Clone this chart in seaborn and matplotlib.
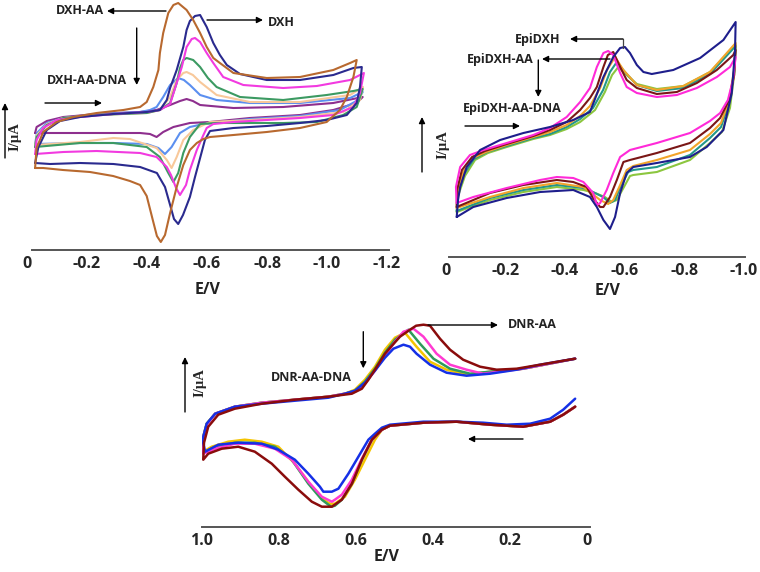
import matplotlib
matplotlib.use("Agg")
import matplotlib.pyplot as plt
import pandas as pd
import seaborn as sns

# ---------------- panel 1 : DXH (E in V, I arbitrary) ----------------
p1_dxh_E = [-0.027, -0.038, -0.066, -0.110, -0.177, -0.288, -0.399, -0.443, -0.466, -0.477, -0.499, -0.521, -0.532,
            -0.543, -0.560, -0.577, -0.599, -0.621, -0.643, -0.666, -0.710, -0.799, -0.910, -1.021, -1.088, -1.116,
            -1.110, -1.099, -1.066, -0.999, -0.910, -0.799, -0.688, -0.610, -0.593, -0.577, -0.560, -0.543, -0.520,
            -0.504, -0.490, -0.477, -0.460, -0.433, -0.377, -0.288, -0.177, -0.077, -0.027]
p1_dxh_I = [8.7, 10.3, 12.0, 12.9, 13.3, 13.6, 13.8, 14.0, 15.0, 16.2, 18.0, 20.3, 22.0,
            22.9, 23.4, 23.5, 22.3, 20.7, 19.5, 18.5, 17.6, 17.0, 17.0, 17.5, 18.2, 18.3,
            16.3, 14.7, 13.5, 13.0, 12.7, 12.4, 12.2, 11.9, 11.0, 9.2, 7.3, 5.3, 3.5,
            2.6, 3.1, 4.5, 6.3, 7.7, 8.3, 8.6, 8.7, 8.6, 8.7]

p1_dxh_aa_E = [-0.027, -0.032, -0.054, -0.099, -0.154, -0.232, -0.321, -0.377, -0.399, -0.421, -0.438, -0.443, -0.454,
               -0.471, -0.488, -0.504, -0.532, -0.554, -0.577, -0.599, -0.621, -0.643, -0.688, -0.799, -0.910, -1.021,
               -1.077, -1.099,
               -1.088, -1.066, -1.043, -0.999, -0.910, -0.799, -0.688, -0.610, -0.588, -0.566, -0.543, -0.521, -0.499,
               -0.477, -0.460, -0.446, -0.433, -0.421, -0.399, -0.377, -0.343, -0.287, -0.210, -0.120, -0.054, -0.027]
p1_dxh_aa_I = [8.2, 10.2, 11.8, 12.8, 13.3, 13.7, 14.0, 14.3, 14.8, 16.3, 18.0, 19.7, 21.7,
               23.7, 24.5, 24.7, 24.0, 23.0, 21.7, 20.3, 19.2, 18.7, 17.7, 17.2, 17.3, 18.0,
               18.7, 19.0,
               17.3, 15.3, 14.0, 12.8, 12.2, 11.8, 11.5, 11.3, 11.1, 10.7, 10.0, 8.5, 6.3,
               3.7, 1.5, 0.8, 1.4, 2.8, 5.4, 6.5, 6.9, 7.4, 7.8, 8.0, 8.2, 8.2]

p1_dna1_E = [-0.027, -0.032, -0.054, -0.099, -0.177, -0.288, -0.399, -0.443, -0.477, -0.499, -0.516, -0.532, -0.549,
             -0.560, -0.577, -0.599, -0.621, -0.654, -0.721, -0.854, -0.966, -1.077, -1.123,
             -1.110, -1.088, -1.021, -0.910, -0.799, -0.688, -0.621, -0.599, -0.588, -0.566, -0.543, -0.530, -0.510,
             -0.497, -0.480, -0.466, -0.432, -0.377, -0.232, -0.121, -0.027]
p1_dna1_I = [9.6, 11.0, 12.2, 13.0, 13.3, 13.6, 13.8, 14.0, 14.6, 16.7, 18.3, 20.3, 21.1,
             21.2, 20.8, 19.7, 18.7, 17.3, 16.5, 16.2, 16.4, 17.0, 17.7,
             15.7, 14.3, 13.5, 13.2, 13.0, 12.8, 12.6, 12.2, 11.5, 10.0, 8.0, 6.5, 5.5,
             6.2, 7.5, 8.3, 9.3, 9.7, 9.9, 9.8, 9.6]

p1_dna2_E = [-0.027, -0.032, -0.066, -0.121, -0.232, -0.399, -0.443, -0.477, -0.499, -0.510, -0.521, -0.532, -0.554,
             -0.577, -0.603, -0.632, -0.710, -0.854, -0.999, -1.088, -1.119,
             -1.099, -1.054, -0.966, -0.854, -0.743, -0.632, -0.577, -0.543, -0.521, -0.504, -0.488, -0.471, -0.443,
             -0.399, -0.288, -0.177, -0.027]
p1_dna2_I = [10.3, 11.3, 12.5, 13.2, 13.5, 13.7, 14.0, 14.7, 16.7, 18.2, 19.0, 19.2, 19.0,
             18.3, 17.2, 16.3, 15.3, 15.0, 15.5, 15.9, 16.1,
             14.3, 13.5, 12.8, 12.7, 12.7, 12.7, 12.6, 11.3, 9.7, 7.7, 6.8, 7.7, 9.3,
             10.3, 10.7, 10.7, 10.3]

p1_dna3_E = [-0.027, -0.033, -0.067, -0.120, -0.233, -0.400, -0.443, -0.477, -0.499, -0.521, -0.532, -0.553, -0.577,
             -0.632, -0.743, -0.910, -1.077, -1.120,
             -1.110, -1.054, -0.910, -0.743, -0.610, -0.588, -0.554, -0.521, -0.499, -0.482, -0.466, -0.432, -0.343,
             -0.288, -0.177, -0.027]
p1_dna3_I = [10.5, 11.5, 12.6, 13.2, 13.5, 13.7, 14.0, 15.3, 17.0, 17.7, 17.8, 17.5, 16.8,
             15.5, 14.8, 14.8, 15.5, 16.3,
             15.0, 13.8, 13.3, 13.0, 12.8, 12.5, 12.0, 11.0, 9.3, 8.2, 9.0, 10.2, 11.1,
             11.2, 10.8, 10.5]

p1_dna4_E = [-0.027, -0.033, -0.066, -0.121, -0.232, -0.377, -0.410, -0.432, -0.454, -0.477, -0.504, -0.523, -0.543,
             -0.577, -0.632, -0.743, -0.910, -1.077, -1.119,
             -1.104, -1.043, -0.910, -0.743, -0.588, -0.543, -0.510, -0.482, -0.460, -0.438, -0.399, -0.288, -0.177,
             -0.027]
p1_dna4_I = [10.6, 11.7, 12.7, 13.2, 13.6, 13.8, 14.0, 14.3, 15.3, 16.5, 17.2, 17.0, 16.5,
             15.5, 15.0, 14.7, 14.7, 15.2, 15.8,
             15.0, 14.0, 13.4, 13.1, 12.6, 12.3, 11.7, 10.3, 9.6, 10.2, 10.6, 10.7, 10.7,
             10.6]

p1_dna5_E = [-0.027, -0.032, -0.066, -0.121, -0.232, -0.377, -0.432, -0.477, -0.510, -0.532, -0.553, -0.577, -0.688,
             -0.854, -1.021, -1.119,
             -1.099, -1.021, -0.910, -0.743, -0.610, -0.543, -0.488, -0.454, -0.432, -0.410, -0.377, -0.232, -0.121,
             -0.027]
p1_dna5_I = [11.7, 12.3, 12.9, 13.3, 13.6, 13.8, 14.0, 14.5, 14.9, 15.1, 14.9, 14.5, 14.2,
             14.3, 14.7, 15.3,
             14.7, 14.0, 13.5, 13.2, 12.8, 12.7, 12.3, 11.8, 11.3, 11.6, 11.7, 11.7, 11.7,
             11.7]

p1_ticks = [0, -0.2, -0.4, -0.6, -0.8, -1.0, -1.2]
p1_tick_labels = ["0", "-0.2", "-0.4", "-0.6", "-0.8", "-1.0", "-1.2"]

# ---------------- panel 2 : EpiDXH ----------------
p2_epi_E = [-0.0375, -0.042, -0.049, -0.071, -0.116, -0.183, -0.261, -0.350, -0.428, -0.484, -0.529, -0.562, -0.585,
            -0.601, -0.618, -0.641, -0.663, -0.691, -0.763, -0.853, -0.931, -0.972,
            -0.970, -0.959, -0.931, -0.875, -0.819, -0.708, -0.629, -0.607, -0.585, -0.568, -0.551, -0.529, -0.507,
            -0.484, -0.428, -0.317, -0.205, -0.093, -0.0375]
p2_epi_I = [4.0, 5.7, 7.0, 9.0, 10.7, 11.7, 12.4, 13.0, 13.7, 14.5, 18.0, 20.0, 20.9,
            21.0, 20.4, 19.2, 18.5, 18.3, 18.7, 19.9, 21.7, 23.5,
            20.7, 16.4, 12.7, 11.0, 10.0, 9.4, 9.0, 8.4, 6.4, 4.0, 2.8, 3.7, 5.0,
            6.0, 6.7, 6.5, 5.9, 5.0, 4.0]

p2_dna1_E = [-0.0375, -0.035, -0.049, -0.082, -0.127, -0.205, -0.294, -0.350, -0.406, -0.451, -0.484, -0.507, -0.529,
             -0.545, -0.562, -0.585, -0.607, -0.641, -0.708, -0.775, -0.842, -0.909, -0.953, -0.972,
             -0.963, -0.946, -0.920, -0.886, -0.819, -0.708, -0.618, -0.585, -0.562, -0.540, -0.518, -0.507, -0.495,
             -0.462, -0.428, -0.373, -0.317, -0.205, -0.093, -0.0375]
p2_dna1_I = [5.4, 7.0, 9.0, 10.2, 10.7, 11.4, 12.2, 12.9, 14.0, 15.5, 16.9, 19.0, 20.4,
             20.6, 20.2, 18.4, 17.0, 16.4, 16.0, 16.2, 16.9, 18.0, 19.0, 20.0,
             17.7, 15.7, 14.4, 13.6, 12.4, 11.4, 10.7, 10.0, 8.4, 6.7, 5.4, 5.2, 6.4,
             7.5, 7.9, 8.0, 7.7, 6.9, 6.0, 5.4]

p2_epi_aa_E = [-0.0375, -0.0385, -0.055, -0.089, -0.132, -0.205, -0.294, -0.350, -0.406, -0.451, -0.484, -0.507,
               -0.529, -0.544, -0.562, -0.585, -0.607, -0.641, -0.708, -0.775, -0.842, -0.909, -0.964, -0.972,
               -0.967, -0.950, -0.920, -0.886, -0.819, -0.708, -0.618, -0.596, -0.574, -0.551, -0.529, -0.518,
               -0.494, -0.473, -0.428, -0.373, -0.261, -0.149, -0.0375]
p2_epi_aa_I = [5.0, 6.7, 8.7, 10.0, 10.6, 11.3, 12.1, 12.7, 13.5, 14.7, 15.9, 17.0,
               19.0, 20.2, 20.5, 19.0, 17.7, 16.9, 16.3, 16.5, 17.4, 18.7, 20.2, 20.7,
               18.2, 15.7, 13.9, 12.9, 11.4, 10.4, 9.7, 9.5, 7.7, 6.0, 5.0, 5.0,
               5.9, 7.0, 7.5, 7.7, 7.2, 6.4, 5.0]

p2_dna2_E = [-0.0375, -0.040, -0.059, -0.092, -0.136, -0.205, -0.294, -0.350, -0.406, -0.451, -0.484, -0.518, -0.541,
             -0.568, -0.596, -0.641, -0.708, -0.797, -0.886, -0.972,
             -0.967, -0.950, -0.923, -0.886, -0.819, -0.708, -0.629, -0.607, -0.585, -0.562, -0.545, -0.518, -0.484,
             -0.462, -0.373, -0.261, -0.149, -0.0375]
p2_dna2_I = [4.9, 6.5, 8.5, 9.9, 10.5, 11.2, 12.0, 12.5, 13.2, 14.1, 15.1, 16.9, 18.7,
             20.0, 18.7, 17.2, 16.7, 17.1, 18.5, 21.4,
             18.7, 15.7, 13.4, 12.3, 10.7, 9.7, 9.1, 8.7, 7.2, 5.7, 5.3, 5.7, 6.5,
             7.0, 7.4, 6.9, 6.0, 4.9]

p2_dna3_E = [-0.0375, -0.042, -0.062, -0.095, -0.139, -0.205, -0.294, -0.350, -0.406, -0.451, -0.494, -0.528, -0.551,
             -0.574, -0.601, -0.641, -0.708, -0.797, -0.886, -0.972,
             -0.967, -0.950, -0.923, -0.886, -0.819, -0.708, -0.629, -0.612, -0.589, -0.568, -0.551, -0.528, -0.494,
             -0.462, -0.373, -0.261, -0.149, -0.0375]
p2_dna3_I = [4.6, 6.3, 8.3, 9.8, 10.5, 11.1, 11.9, 12.3, 13.0, 13.8, 14.9, 16.7, 18.5,
             19.5, 18.5, 17.2, 16.6, 16.9, 18.3, 21.1,
             18.5, 15.4, 13.0, 11.9, 10.2, 9.0, 8.7, 8.5, 7.2, 5.7, 5.4, 6.0, 6.5,
             6.9, 7.2, 6.7, 5.9, 4.6]

p2_dna4_E = [-0.0375, -0.042, -0.065, -0.099, -0.142, -0.205, -0.294, -0.350, -0.406, -0.451, -0.501, -0.534, -0.558,
             -0.579, -0.607, -0.641, -0.708, -0.797, -0.886, -0.972,
             -0.967, -0.953, -0.926, -0.886, -0.819, -0.708, -0.629, -0.618, -0.596, -0.574, -0.557, -0.534, -0.501,
             -0.462, -0.373, -0.261, -0.149, -0.0375]
p2_dna4_I = [4.5, 6.1, 8.1, 9.7, 10.4, 11.0, 11.8, 12.2, 12.8, 13.5, 14.7, 16.5, 18.2,
             19.0, 18.2, 17.3, 16.8, 17.1, 18.5, 21.2,
             18.2, 14.9, 12.5, 11.4, 9.7, 8.5, 8.2, 8.1, 6.9, 5.7, 5.5, 6.0, 6.4,
             6.7, 7.0, 6.5, 5.7, 4.5]

p2_ticks = [0, -0.2, -0.4, -0.6, -0.8, -1.0]
p2_tick_labels = ["0", "-0.2", "-0.4", "-0.6", "-0.8", "-1.0"]

# ---------------- panel 3 : DNR ----------------
p3_dnr_aa_E = [0.030, 0.061, 0.095, 0.165, 0.251, 0.338, 0.424, 0.511, 0.532, 0.558, 0.584, 0.610, 0.636, 0.662,
               0.688, 0.714, 0.749, 0.784, 0.818, 0.862, 0.905, 0.948, 0.983, 0.996,
               0.994, 0.983, 0.957, 0.914, 0.844, 0.758, 0.671, 0.610, 0.584, 0.567, 0.545, 0.524, 0.506, 0.485,
               0.459, 0.443, 0.424, 0.407, 0.381, 0.355, 0.321, 0.277, 0.234, 0.182, 0.121, 0.061, 0.030]
p3_dnr_aa_I = [12.0, 11.2, 10.5, 10.0, 10.2, 10.5, 10.4, 10.1, 9.7, 8.7, 6.7, 4.3, 2.7, 2.0,
               2.0, 2.5, 3.7, 5.0, 6.3, 7.5, 8.0, 7.8, 7.3, 6.7,
               8.4, 10.0, 11.2, 11.8, 12.3, 12.7, 13.0, 13.3, 13.8, 14.7, 16.0, 17.3, 18.1, 19.0,
               19.7, 20.1, 20.2, 20.1, 18.8, 17.7, 16.7, 16.0, 15.7, 15.8, 16.2, 16.6, 16.8]

p3_dna1_E = [0.030, 0.061, 0.095, 0.165, 0.251, 0.338, 0.424, 0.511, 0.532, 0.558, 0.584, 0.610, 0.636, 0.654,
             0.662, 0.688, 0.723, 0.766, 0.810, 0.862, 0.914, 0.965, 0.996,
             0.998, 0.987, 0.965, 0.914, 0.844, 0.758, 0.671, 0.628, 0.602, 0.576, 0.550, 0.524, 0.498, 0.476,
             0.450, 0.424, 0.390, 0.355, 0.312, 0.269, 0.165, 0.030]
p3_dna1_I = [12.0, 11.2, 10.5, 10.0, 10.2, 10.5, 10.4, 10.1, 9.7, 8.7, 6.8, 4.7, 3.2, 2.7,
             2.5, 3.0, 4.5, 6.7, 7.8, 8.3, 8.3, 7.8, 7.3,
             8.6, 10.2, 11.3, 12.0, 12.4, 12.7, 13.0, 13.3, 13.5, 14.3, 15.6, 17.1, 18.5, 19.5,
             19.8, 19.0, 17.3, 16.2, 15.7, 15.3, 15.8, 16.8]

p3_dna2_E = [0.030, 0.061, 0.095, 0.165, 0.251, 0.338, 0.424, 0.511, 0.532, 0.558, 0.584, 0.610, 0.636, 0.654,
             0.664, 0.688, 0.723, 0.766, 0.810, 0.862, 0.914, 0.965, 0.996,
             0.998, 0.987, 0.965, 0.914, 0.844, 0.758, 0.671, 0.628, 0.602, 0.576, 0.550, 0.524, 0.498, 0.463,
             0.433, 0.398, 0.355, 0.303, 0.251, 0.165, 0.030]
p3_dna2_I = [12.0, 11.2, 10.5, 10.0, 10.2, 10.5, 10.4, 10.1, 9.7, 8.7, 6.7, 4.3, 2.7, 2.1,
             2.0, 2.7, 4.3, 6.7, 8.0, 8.4, 8.4, 8.0, 7.4,
             8.7, 10.3, 11.3, 12.0, 12.4, 12.7, 13.0, 13.3, 13.6, 14.5, 15.8, 17.4, 18.7, 19.7,
             18.3, 16.8, 15.8, 15.3, 15.5, 15.8, 16.8]

p3_dna3_E = [0.030, 0.061, 0.095, 0.165, 0.251, 0.338, 0.424, 0.511, 0.532, 0.550, 0.576, 0.602, 0.628, 0.654,
             0.667, 0.684, 0.714, 0.758, 0.801, 0.844, 0.888, 0.931, 0.974, 0.996,
             0.998, 0.987, 0.965, 0.914, 0.844, 0.758, 0.671, 0.628, 0.602, 0.576, 0.550, 0.524, 0.498, 0.472,
             0.442, 0.407, 0.364, 0.312, 0.251, 0.165, 0.030]
p3_dna3_I = [12.0, 11.2, 10.5, 10.0, 10.2, 10.5, 10.4, 10.1, 9.7, 8.7, 6.7, 4.7, 3.0, 2.3,
             2.3, 2.7, 4.0, 6.3, 8.0, 8.5, 8.7, 8.5, 8.0, 7.5,
             8.7, 10.3, 11.3, 12.0, 12.4, 12.7, 13.0, 13.3, 13.7, 14.7, 16.0, 17.7, 18.9, 19.4,
             18.0, 16.5, 15.7, 15.2, 15.5, 15.8, 16.8]

p3_dna4_E = [0.030, 0.061, 0.095, 0.147, 0.208, 0.269, 0.338, 0.424, 0.511, 0.532, 0.550, 0.567, 0.593, 0.619,
             0.645, 0.662, 0.684, 0.693, 0.723, 0.758, 0.801, 0.844, 0.905, 0.957, 0.991,
             0.998, 0.987, 0.965, 0.914, 0.844, 0.758, 0.671, 0.628, 0.602, 0.576, 0.550, 0.524, 0.502, 0.476,
             0.459, 0.442, 0.407, 0.364, 0.312, 0.251, 0.182, 0.121, 0.030]
p3_dna4_I = [12.8, 11.7, 10.8, 10.3, 10.2, 10.4, 10.5, 10.5, 10.2, 9.9, 9.3, 8.7, 7.0, 5.3,
             3.8, 3.5, 3.5, 4.0, 5.3, 6.7, 7.7, 8.3, 8.4, 8.2, 7.5,
             8.7, 10.3, 11.3, 12.0, 12.3, 12.6, 12.9, 13.3, 13.6, 14.4, 15.6, 16.9, 17.8, 18.2,
             18.0, 17.3, 16.2, 15.4, 15.1, 15.3, 15.7, 16.2, 16.8]

p3_ticks = [1.0, 0.8, 0.6, 0.4, 0.2, 0]
p3_tick_labels = ["1.0", "0.8", "0.6", "0.4", "0.2", "0"]

W, H = 760, 572


def curve_frame(curves):
    rows = []
    for name, (E, I) in curves.items():
        for k, (e, i) in enumerate(zip(E, I)):
            rows.append({"curve": name, "step": k, "E": e, "I": i})
    return pd.DataFrame(rows)


def px_axes(fig, left, top, right, bottom):
    return fig.add_axes([left / W, 1 - bottom / H, (right - left) / W, (bottom - top) / H])


def draw_panel(ax, curves, colors, xlim, ylim, ticks, labels, bounds, lw=1.5):
    df = curve_frame(curves)
    sns.lineplot(data=df, x="E", y="I", hue="curve", hue_order=list(curves), palette=colors,
                 sort=False, estimator=None, linewidth=lw, legend=False, ax=ax)
    ax.set_xlim(*xlim)
    ax.set_ylim(*ylim)
    ax.set_xlabel("")
    ax.set_ylabel("")
    ax.set_yticks([])
    ax.set_xticks(ticks)
    ax.set_xticklabels(labels, fontsize=11.5, fontweight="bold")
    for side in ["top", "right", "left"]:
        ax.spines[side].set_visible(False)
    ax.spines["bottom"].set_color("#555555")
    ax.spines["bottom"].set_linewidth(1.4)
    ax.spines["bottom"].set_bounds(*bounds)
    ax.tick_params(axis="x", direction="inout", length=5, width=1, color="#555555", pad=2)
    ax.patch.set_alpha(0)


sns.set_style("white")
plt.rcParams["font.family"] = ["Open Sans", "DejaVu Sans"]

fig = plt.figure(figsize=(7.6, 5.72), dpi=100)

ax1 = px_axes(fig, 27, 0, 387, 250)
draw_panel(ax1,
           {"DXH-AA-DNA 5": (p1_dna5_E, p1_dna5_I), "DXH-AA-DNA 4": (p1_dna4_E, p1_dna4_I),
            "DXH-AA-DNA 3": (p1_dna3_E, p1_dna3_I), "DXH-AA-DNA 2": (p1_dna2_E, p1_dna2_I),
            "DXH-AA-DNA 1": (p1_dna1_E, p1_dna1_I), "DXH": (p1_dxh_E, p1_dxh_I),
            "DXH-AA": (p1_dxh_aa_E, p1_dxh_aa_I)},
           ["#8e2f8e", "#5b8ff0", "#f8c89a", "#3c9a62", "#f23ae0", "#2a2a8e", "#b8692f"],
           (0, -1.2), (0, 25), p1_ticks, p1_tick_labels, (-0.017, -1.205))

ax2 = px_axes(fig, 445.5, 0, 744, 257)
draw_panel(ax2,
           {"EpiDXH-AA-DNA 4": (p2_dna4_E, p2_dna4_I), "EpiDXH-AA-DNA 3": (p2_dna3_E, p2_dna3_I),
            "EpiDXH-AA-DNA 2": (p2_dna2_E, p2_dna2_I), "EpiDXH-AA": (p2_epi_aa_E, p2_epi_aa_I),
            "EpiDXH-AA-DNA 1": (p2_dna1_E, p2_dna1_I), "EpiDXH": (p2_epi_E, p2_epi_I)},
           ["#8cc63f", "#23988a", "#f2a42a", "#7a1616", "#ff2ad8", "#1e1e8c"],
           (0, -1.0), (0, 25.7), p2_ticks, p2_tick_labels, (-0.012, -1.005))

ax3 = px_axes(fig, 201.7, 300, 586.7, 526.7)
draw_panel(ax3,
           {"DNR-AA-DNA 3": (p3_dna3_E, p3_dna3_I), "DNR-AA-DNA 2": (p3_dna2_E, p3_dna2_I),
            "DNR-AA-DNA 1": (p3_dna1_E, p3_dna1_I), "DNR-AA-DNA 4": (p3_dna4_E, p3_dna4_I),
            "DNR-AA": (p3_dnr_aa_E, p3_dnr_aa_I)},
           ["#f5c400", "#2f9a5c", "#ff3ad2", "#1530e6", "#8a0c0c"],
           (1.0, 0), (0, 22.67), p3_ticks, p3_tick_labels, (1.0, -0.008), lw=1.8)

# overlay in pixel coordinates for labels and arrows
ov = fig.add_axes([0, 0, 1, 1])
ov.set_xlim(0, W)
ov.set_ylim(H, 0)
ov.axis("off")
ov.patch.set_alpha(0)


def arrow(tail, head):
    ov.annotate("", xy=head, xytext=tail,
                arrowprops=dict(arrowstyle="-|>", color="black", lw=1.0, mutation_scale=9,
                                shrinkA=0, shrinkB=0))


def note(x, y, s, size=9):
    ov.text(x, y, s, ha="center", va="center", fontsize=size, fontweight="bold", color="#222222")


def ylabel(x, y, ax_x, y0, y1):
    ov.text(x, y, "I/µA", rotation=90, ha="center", va="center", fontsize=10.5, fontweight="bold",
            family=["Liberation Serif", "DejaVu Serif"])
    arrow((ax_x, y0), (ax_x, y1))


# panel 1
note(80, 11, "DXH-AA")
arrow((166, 11), (107, 11))
arrow((136.7, 28), (136.7, 85))
note(86.5, 80, "DXH-AA-DNA")
arrow((45, 103), (102, 103))
note(281, 22.5, "DXH")
arrow((207, 20), (263, 20))
ylabel(15, 137, 5, 158, 103)
note(208, 290, "E/V", 11.5)

# panel 2
note(537.5, 39, "EpiDXH")
ov.plot([623, 623], [39, 48], color="#444444", lw=0.9)
arrow((623, 39), (570, 39))
note(500, 60, "EpiDXH-AA")
arrow((610, 59), (542, 59))
arrow((538.3, 60), (538.3, 97))
note(512.5, 108.3, "EpiDXH-AA-DNA")
arrow((465, 126), (520, 126))
ylabel(443, 145, 422, 172, 117)
note(608, 291, "E/V", 11.5)

# panel 3
arrow((363.3, 331.7), (363.3, 368.3))
note(311.7, 377.3, "DNR-AA-DNA")
note(532.5, 324, "DNR-AA")
arrow((428, 325), (498, 325))
arrow((523, 439), (468, 439))
ylabel(200, 383, 185, 412, 357)
note(387, 557, "E/V", 11.5)

fig.savefig("out.png", dpi=100)
